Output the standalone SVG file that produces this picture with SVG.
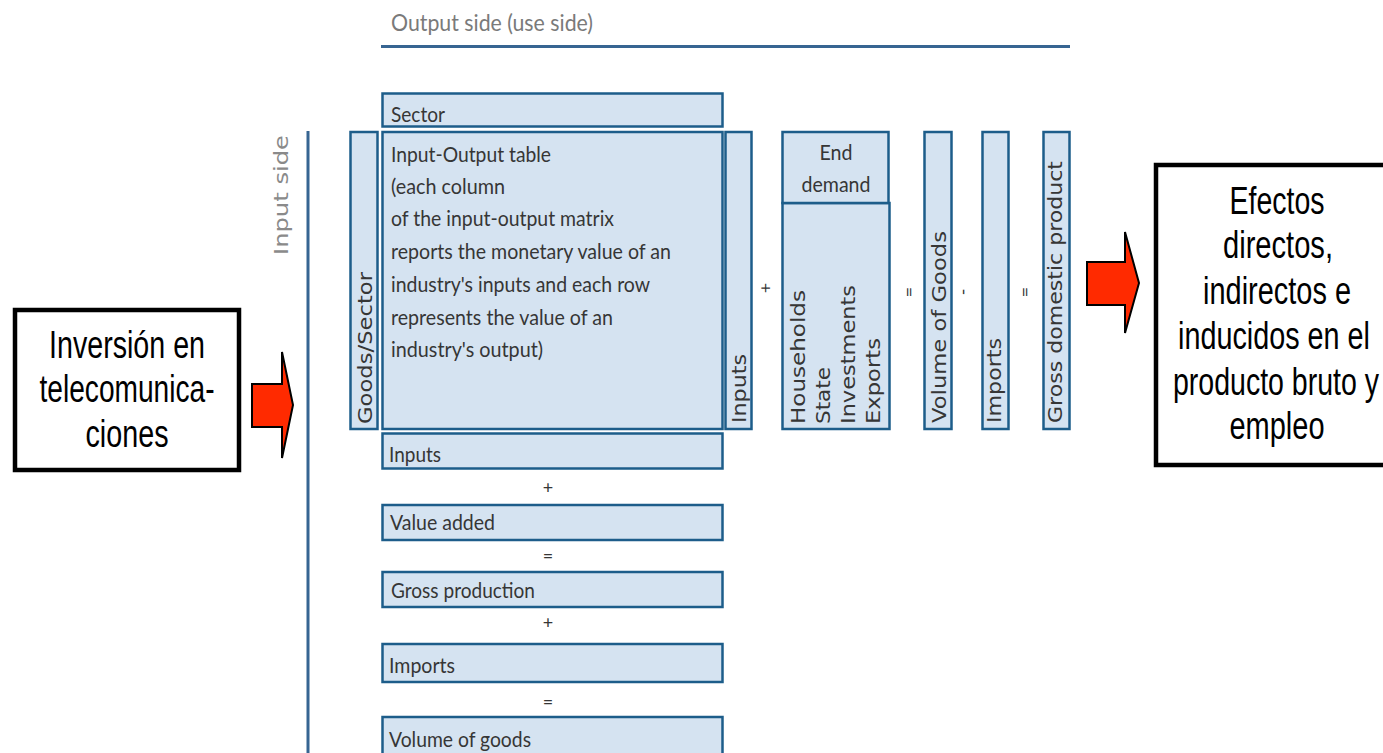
<svg xmlns="http://www.w3.org/2000/svg" width="1383" height="753" viewBox="0 0 1383 753">
<style>
.bx{fill:#d5e3f1;stroke:#1d5d8a;stroke-width:2.5}
.t{font-family:Lato,"Open Sans",sans-serif;font-size:22px;fill:#363636}
.v{font-family:"DejaVu Sans",Verdana,sans-serif;font-size:20px;fill:#363636}
.op{font-family:Lato,"Open Sans",sans-serif;font-size:18px;fill:#363636;text-anchor:middle}
.big{font-family:"Liberation Sans",Arial,sans-serif;font-size:30px;fill:#000;text-anchor:middle}
.blk{fill:#fff;stroke:#000;stroke-width:4.5}
.arr{fill:#ff2a00;stroke:#000;stroke-width:2}
.axis{stroke:#376592;stroke-width:3;fill:none}
.gray{font-family:Lato,"Open Sans",sans-serif;font-size:24px;fill:#7a7a7a}
.grayv{font-family:"DejaVu Sans",Verdana,sans-serif;font-size:19px;fill:#8a8a8a}
</style>
<g id="axes">
<line class="axis" x1="381" y1="46.5" x2="1070" y2="46.5"/>
<text class="gray" x="391" y="31" textLength="202" lengthAdjust="spacingAndGlyphs">Output side (use side)</text>
<line class="axis" x1="308" y1="131" x2="308" y2="753"/>
<text class="grayv" transform="translate(288,255) rotate(-90)" textLength="120" lengthAdjust="spacingAndGlyphs">Input side</text>
</g>
<g id="sector"><rect class="bx" x="382.5" y="93.5" width="340" height="33"/><text class="t" x="391" y="122" textLength="54" lengthAdjust="spacingAndGlyphs">Sector</text></g>
<g id="goods-sector"><rect class="bx" x="350.5" y="132" width="27" height="297"/><text class="v" transform="translate(372,424) rotate(-90)" textLength="152" lengthAdjust="spacingAndGlyphs">Goods/Sector</text></g>
<g id="io-table"><rect class="bx" x="382.5" y="132" width="340" height="297"/>
<text class="t" x="391" y="162" textLength="160" lengthAdjust="spacingAndGlyphs">Input-Output table</text>
<text class="t" x="391" y="194" textLength="114" lengthAdjust="spacingAndGlyphs">(each column</text>
<text class="t" x="391" y="226" textLength="223" lengthAdjust="spacingAndGlyphs">of the input-output matrix</text>
<text class="t" x="391" y="259" textLength="280" lengthAdjust="spacingAndGlyphs">reports the monetary value of an</text>
<text class="t" x="391" y="292" textLength="259" lengthAdjust="spacingAndGlyphs">industry's inputs and each row</text>
<text class="t" x="391" y="325" textLength="222" lengthAdjust="spacingAndGlyphs">represents the value of an</text>
<text class="t" x="391" y="357" textLength="152" lengthAdjust="spacingAndGlyphs">industry's output)</text>
</g>
<g id="inputs-col"><rect class="bx" x="725.5" y="132" width="26" height="297"/><text class="v" transform="translate(746,423) rotate(-90)" textLength="69" lengthAdjust="spacingAndGlyphs">Inputs</text></g>
<g id="end-demand">
<rect class="bx" x="782.5" y="203" width="107" height="226"/>
<rect class="bx" x="782.5" y="132" width="106" height="71"/>
<text class="t" x="836" y="160" text-anchor="middle" textLength="33" lengthAdjust="spacingAndGlyphs">End</text>
<text class="t" x="836" y="192" text-anchor="middle" textLength="69" lengthAdjust="spacingAndGlyphs">demand</text>
<text class="v" transform="translate(805,424) rotate(-90)" textLength="134" lengthAdjust="spacingAndGlyphs">Households</text>
<text class="v" transform="translate(830,424) rotate(-90)" textLength="57" lengthAdjust="spacingAndGlyphs">State</text>
<text class="v" transform="translate(855,424) rotate(-90)" textLength="139" lengthAdjust="spacingAndGlyphs">Investments</text>
<text class="v" transform="translate(880,424) rotate(-90)" textLength="86" lengthAdjust="spacingAndGlyphs">Exports</text>
</g>
<g id="volume-col"><rect class="bx" x="924.5" y="132" width="27" height="297"/><text class="v" transform="translate(946,423) rotate(-90)" textLength="192" lengthAdjust="spacingAndGlyphs">Volume of Goods</text></g>
<g id="imports-col"><rect class="bx" x="982.5" y="132" width="26" height="297"/><text class="v" transform="translate(1001,423) rotate(-90)" textLength="85" lengthAdjust="spacingAndGlyphs">Imports</text></g>
<g id="gdp-col"><rect class="bx" x="1043.5" y="132" width="26" height="297"/><text class="v" transform="translate(1062,423) rotate(-90)" textLength="262" lengthAdjust="spacingAndGlyphs">Gross domestic product</text></g>
<g id="inputs-row"><rect class="bx" x="382.5" y="433.5" width="340" height="35"/><text class="t" x="389" y="462" textLength="52" lengthAdjust="spacingAndGlyphs">Inputs</text></g>
<g id="value-added"><rect class="bx" x="382.5" y="505" width="340" height="35"/><text class="t" x="390" y="530" textLength="105" lengthAdjust="spacingAndGlyphs">Value added</text></g>
<g id="gross-production"><rect class="bx" x="382.5" y="572" width="340" height="35"/><text class="t" x="391" y="598" textLength="144" lengthAdjust="spacingAndGlyphs">Gross production</text></g>
<g id="imports-row"><rect class="bx" x="382.5" y="644" width="340" height="38"/><text class="t" x="389" y="673" textLength="66" lengthAdjust="spacingAndGlyphs">Imports</text></g>
<g id="volume-row"><rect class="bx" x="382.5" y="717" width="340" height="40"/><text class="t" x="389" y="747" textLength="142" lengthAdjust="spacingAndGlyphs">Volume of goods</text></g>
<g id="operators">
<text class="op" x="548" y="494">+</text>
<text class="op" x="548" y="562">=</text>
<text class="op" x="548" y="629">+</text>
<text class="op" x="548" y="708">=</text>
<text class="op" transform="translate(772,288) rotate(-90)">+</text>
<text class="op" transform="translate(915,292) rotate(-90)">=</text>
<text class="op" transform="translate(969,292) rotate(-90)">-</text>
<text class="op" transform="translate(1031,292) rotate(-90)">=</text>
</g>
<g id="inversion">
<rect class="blk" x="15" y="310" width="224" height="160"/>
<text class="big" transform="translate(127,358) scale(1,1.3)" textLength="156" lengthAdjust="spacingAndGlyphs">Inversión en</text>
<text class="big" transform="translate(127,402) scale(1,1.3)" textLength="175" lengthAdjust="spacingAndGlyphs">telecomunica-</text>
<text class="big" transform="translate(127,447) scale(1,1.3)" textLength="83" lengthAdjust="spacingAndGlyphs">ciones</text>
</g>
<g id="efectos">
<rect class="blk" x="1156" y="165" width="240" height="300"/>
<text class="big" transform="translate(1277,214) scale(1,1.3)" textLength="95" lengthAdjust="spacingAndGlyphs">Efectos</text>
<text class="big" transform="translate(1278,258) scale(1,1.3)" textLength="110" lengthAdjust="spacingAndGlyphs">directos,</text>
<text class="big" transform="translate(1277,304) scale(1,1.3)" textLength="148" lengthAdjust="spacingAndGlyphs">indirectos e</text>
<text class="big" transform="translate(1274,349) scale(1,1.3)" textLength="192" lengthAdjust="spacingAndGlyphs">inducidos en el</text>
<text class="big" style="font-size:29px" transform="translate(1276,395) scale(1,1.34)" textLength="206" lengthAdjust="spacingAndGlyphs">producto bruto y</text>
<text class="big" transform="translate(1277,439) scale(1,1.3)" textLength="95" lengthAdjust="spacingAndGlyphs">empleo</text>
</g>
<g id="connectors">
<path class="arr" d="M252,384 H282 V352 L293,405 L282,458 V427 H252 Z"/>
<path class="arr" d="M1087,262 H1125 V232 L1139,283 L1125,333 V305 H1087 Z"/>
</g>
</svg>
